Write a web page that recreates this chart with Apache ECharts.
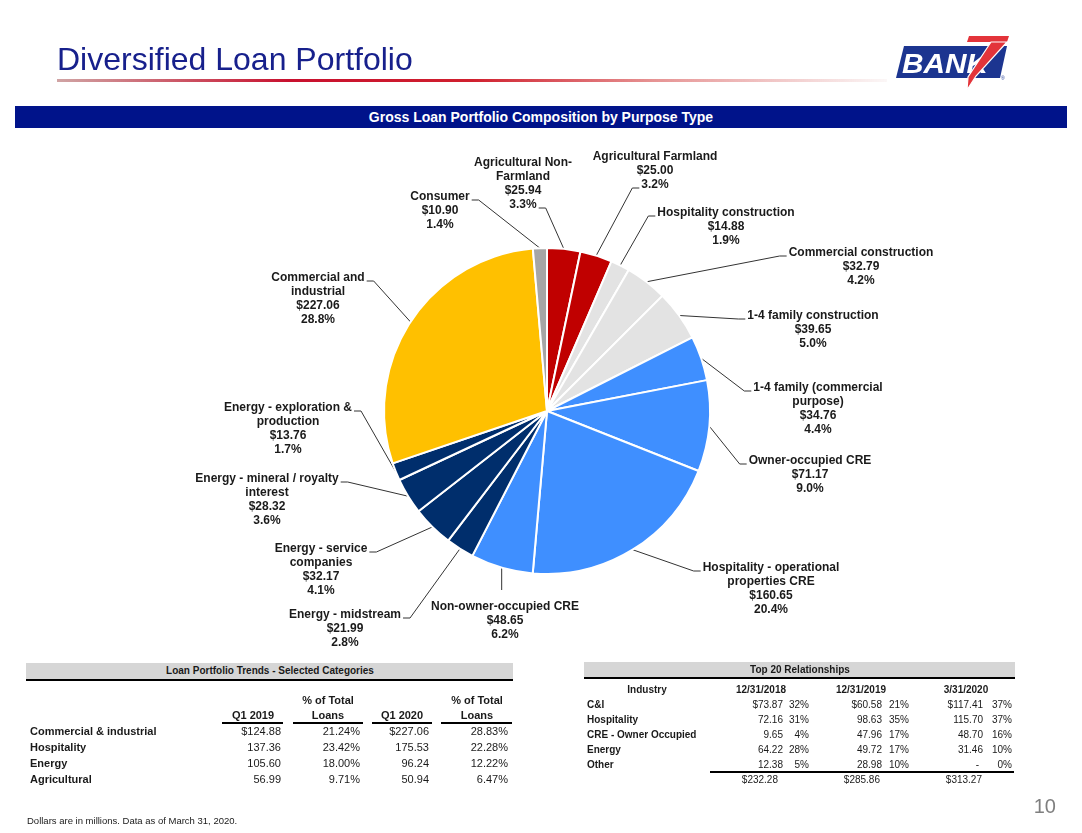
<!DOCTYPE html>
<html>
<head>
<meta charset="utf-8">
<title>Diversified Loan Portfolio</title>
<script src="https://cdn.jsdelivr.net/npm/echarts@6.0.0/dist/echarts.min.js"></script>
<style>
  body { margin: 0; background: #fff; font-family: "Liberation Sans", Arial, sans-serif; color: #1a1a1a; }
  #page { position: relative; width: 1082px; height: 833px; overflow: hidden; background: #fff; }
  #pie { position: absolute; left: 0; top: 0; width: 1082px; height: 833px; }
  .t { position: absolute; white-space: nowrap; line-height: 1; }
  .b { font-weight: bold; }
  .s11 { font-size: 11px; }
  .s10 { font-size: 10px; }
  .rule { position: absolute; background: #000; }
  .bar { position: absolute; background: #d6d6d6; }
  #title { position: absolute; left: 57px; top: 43px; font-size: 32px; color: #17208c; line-height: 1; }
  #swoosh { position: absolute; left: 57px; top: 79px; width: 830px; height: 3px;
    background: linear-gradient(to right, rgba(170,90,90,0.55) 0%, #c8102e 28%, #d0202e 50%, rgba(210,60,60,0.55) 72%, rgba(230,200,200,0.15) 100%); }
  #band { position: absolute; left: 15px; top: 106px; width: 1052px; height: 22px; background: #00138a;
    color: #fff; font-weight: bold; font-size: 14px; line-height: 22px; text-align: center; }
</style>
</head>
<body>
<div id="page">
  <div id="pie"></div>
  <div id="title">Diversified Loan Portfolio</div>
  <div id="swoosh"></div>
  <svg style="position:absolute;left:880px;top:30px" width="140" height="66" viewBox="880 30 140 66">
    <polygon points="904,46 1007,46 1000,78 896,78" fill="#1c3590"/>
    <text x="902" y="73" fill="#fff" font-family="Liberation Sans, Arial" font-weight="bold" font-style="italic" font-size="28" textLength="86" lengthAdjust="spacingAndGlyphs">BANK</text>
    <polygon points="969,36 1009,36 1007,42 967,42" fill="#e3343a"/>
    <polygon points="991,42 1007,42 976,76 967,90 968,77" fill="#e3343a" stroke="#fff" stroke-width="1.2"/>
    <text x="1001" y="80" fill="#1c3590" font-family="Liberation Sans, Arial" font-size="5">®</text>
  </svg>
  <div id="band">Gross Loan Portfolio Composition by Purpose Type</div>
</div>
<script>
  // pie slices, clockwise from 12 o'clock
  var sliceNames = [
    'Agricultural Non-\nFarmland', 'Agricultural Farmland', 'Hospitality construction',
    'Commercial construction', '1-4 family construction', '1-4 family (commercial\npurpose)',
    'Owner-occupied CRE', 'Hospitality - operational\nproperties CRE', 'Non-owner-occupied CRE',
    'Energy - midstream', 'Energy - service\ncompanies', 'Energy - mineral / royalty\ninterest',
    'Energy - exploration &\nproduction', 'Commercial and\nindustrial', 'Consumer'
  ];
  var sliceValues = [25.94, 25.00, 14.88, 32.79, 39.65, 34.76, 71.17, 160.65, 48.65, 21.99, 32.17, 28.32, 13.76, 227.06, 10.90];
  var sliceColors = ['#c00000', '#c00000', '#e3e3e3', '#e3e3e3', '#e3e3e3', '#3f8fff', '#3f8fff', '#3f8fff', '#3f8fff',
    '#002e6c', '#002e6c', '#002e6c', '#002e6c', '#ffc000', '#a6a6a6'];

  // loan portfolio trends table
  var trendRows = ['Commercial & industrial', 'Hospitality', 'Energy', 'Agricultural'];
  var q12019 = [124.88, 137.36, 105.60, 56.99];
  var q12019Pct = [21.24, 23.42, 18.00, 9.71];
  var q12020 = [227.06, 175.53, 96.24, 50.94];
  var q12020Pct = [28.83, 22.28, 12.22, 6.47];

  // top 20 relationships table
  var industries = ['C&I', 'Hospitality', 'CRE - Owner Occupied', 'Energy', 'Other'];
  var relDates = ['12/31/2018', '12/31/2019', '3/31/2020'];
  var rel2018 = [73.87, 72.16, 9.65, 64.22, 12.38];
  var rel2018Pct = [32, 31, 4, 28, 5];
  var rel2019 = [60.58, 98.63, 47.96, 49.72, 28.98];
  var rel2019Pct = [21, 35, 17, 17, 10];
  var rel2020 = [117.41, 115.70, 48.70, 31.46, 0];
  var rel2020Pct = [37, 37, 16, 10, 0];
  var relTotals = [232.28, 285.86, 313.27];

  // label spots (center x, top y) and which side / line the leader joins
  var labelSpots = [[523, 156], [655, 150], [726, 206], [861, 246], [813, 309], [818, 381], [810, 454],
    [771, 561], [505, 600], [345, 608], [321, 542], [267, 472], [288, 401], [318, 271], [440, 190]];
  var labelJoin = [['R', -1], ['L', -1], ['L', 0], ['L', 0], ['L', 0], ['L', 0], ['L', 0],
    ['L', 0], ['T', 0], ['R', 0], ['R', 0], ['R', 0], ['R', 0], ['R', 0], ['R', 0]];

  var CX = 547, CY = 411, R = 163, LH = 14;
  var page = document.getElementById('page');

  function put(text, x, y, align, cls) {
    var el = document.createElement('div');
    el.className = 't ' + (cls || '');
    el.textContent = text;
    el.style.left = x + 'px';
    el.style.top = y + 'px';
    var tx = align === 'right' ? '-100%' : align === 'center' ? '-50%' : '0';
    el.style.transform = 'translate(' + tx + ',-50%)';
    page.appendChild(el);
    return el;
  }

  function box(cls, x, y, w, h) {
    var el = document.createElement('div');
    el.className = cls;
    el.style.left = x + 'px';
    el.style.top = y + 'px';
    el.style.width = w + 'px';
    el.style.height = h + 'px';
    page.appendChild(el);
  }

  function money(v, dollar) {
    if (!v) return '-';
    return (dollar ? '$' : '') + v.toFixed(2);
  }

  // left table
  box('bar', 26, 663, 487, 16);
  box('rule', 26, 679, 487, 2);
  put('Loan Portfolio Trends - Selected Categories', 270, 671, 'center', 'b s10');
  put('Q1 2019', 253, 715, 'center', 'b s11');
  put('% of Total', 328, 700, 'center', 'b s11');
  put('Loans', 328, 715, 'center', 'b s11');
  put('Q1 2020', 402, 715, 'center', 'b s11');
  put('% of Total', 477, 700, 'center', 'b s11');
  put('Loans', 477, 715, 'center', 'b s11');
  [[222, 61], [293, 70], [372, 60], [441, 71]].forEach(function (u) { box('rule', u[0], 722, u[1], 2); });
  trendRows.forEach(function (name, i) {
    var y = 731 + i * 16;
    put(name, 30, y, 'left', 'b s11');
    put(money(q12019[i], i === 0), 281, y, 'right', 's11');
    put(q12019Pct[i].toFixed(2) + '%', 360, y, 'right', 's11');
    put(money(q12020[i], i === 0), 429, y, 'right', 's11');
    put(q12020Pct[i].toFixed(2) + '%', 508, y, 'right', 's11');
  });

  // right table
  box('bar', 584, 662, 431, 15);
  box('rule', 584, 677, 431, 2);
  put('Top 20 Relationships', 800, 670, 'center', 'b s10');
  put('Industry', 647, 690, 'center', 'b s10');
  [761, 861, 966].forEach(function (x, i) { put(relDates[i], x, 690, 'center', 'b s10'); });
  var amtCols = [[rel2018, rel2018Pct, 783, 809], [rel2019, rel2019Pct, 882, 909], [rel2020, rel2020Pct, 983, 1012]];
  industries.forEach(function (name, i) {
    var y = 705 + i * 15;
    put(name, 587, y, 'left', 'b s10');
    amtCols.forEach(function (c) {
      put(money(c[0][i], i === 0), c[0][i] ? c[2] : c[2] - 4, y, 'right', 's10');
      put(c[1][i] + '%', c[3], y, 'right', 's10');
    });
  });
  box('rule', 710, 771, 304, 2);
  [778, 880, 982].forEach(function (x, i) { put(money(relTotals[i], true), x, 780, 'right', 's10'); });

  put('Dollars are in millions.  Data as of March 31, 2020.', 27, 821, 'left', '').style.fontSize = '9.5px';
  var pn = put('10', 1056, 806, 'right', '');
  pn.style.fontSize = '20px';
  pn.style.color = '#7f7f7f';

  // pie
  var total = sliceValues.reduce(function (a, b) { return a + b; }, 0);
  var midAngles = [];
  sliceValues.reduce(function (acc, v) {
    midAngles.push((acc + v / 2) / total * Math.PI * 2);
    return acc + v;
  }, 0);

  var measureCtx = document.createElement('canvas').getContext('2d');
  measureCtx.font = 'bold 12px "Liberation Sans", Arial, sans-serif';

  function labelText(name, value) {
    return name + '\n$' + value.toFixed(2) + '\n' + (value / total * 100).toFixed(1) + '%';
  }

  function leader(i) {
    var a = midAngles[i];
    var p0 = [CX + R * Math.sin(a), CY - R * Math.cos(a)];
    var spot = labelSpots[i];
    var lines = labelText(sliceNames[i], sliceValues[i]).split('\n');
    var join = labelJoin[i];
    if (join[0] === 'T') {
      return [p0, [p0[0], spot[1] - 10], [p0[0], spot[1] - 10]];
    }
    var li = join[1] < 0 ? lines.length - 1 : join[1];
    var w = measureCtx.measureText(lines[li]).width;
    var y = spot[1] + li * LH + 10;
    var edge = join[0] === 'L' ? spot[0] - w / 2 - 2 : spot[0] + w / 2 + 2;
    var tick = join[0] === 'L' ? edge - 7 : edge + 7;
    return [p0, [tick, y], [edge, y]];
  }

  var chart = echarts.init(document.getElementById('pie'), null, { renderer: 'canvas' });
  chart.setOption({
    animation: false,
    series: [{
      type: 'pie',
      center: [CX, CY],
      radius: R,
      startAngle: 90,
      clockwise: true,
      avoidLabelOverlap: false,
      emphasis: { disabled: true },
      itemStyle: { borderColor: '#fff', borderWidth: 2 },
      label: {
        show: true,
        position: 'outside',
        color: '#1a1a1a',
        fontFamily: 'Liberation Sans, Arial, sans-serif',
        fontSize: 12,
        fontWeight: 'bold',
        lineHeight: LH,
        align: 'center',
        formatter: function (p) { return labelText(p.name, p.value); }
      },
      labelLine: { show: true, length: 10, length2: 6, smooth: false, lineStyle: { color: '#333', width: 1 } },
      labelLayout: function (params) {
        var s = labelSpots[params.dataIndex];
        return {
          x: s[0], y: s[1], align: 'center', verticalAlign: 'top',
          labelLinePoints: leader(params.dataIndex)
        };
      },
      data: sliceNames.map(function (n, i) {
        return { name: n, value: sliceValues[i], itemStyle: { color: sliceColors[i] } };
      })
    }]
  });
</script>
</body>
</html>
